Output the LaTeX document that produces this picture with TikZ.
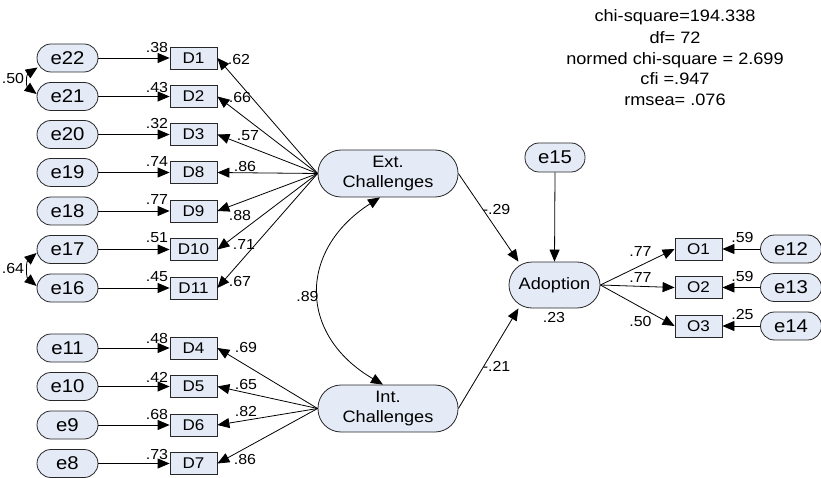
\documentclass[tikz,border=0pt]{standalone}
\usepackage{fontspec}
\setmainfont[FakeStretch=1.1]{Liberation Sans}
\usetikzlibrary{arrows.meta,calc}
\definecolor{nodefill}{RGB}{228,234,246}
\definecolor{edgegray}{RGB}{40,40,40}
\tikzset{
 errnode/.style={draw=edgegray, fill=nodefill, rectangle, rounded corners=14pt, minimum width=61pt, minimum height=28pt, inner sep=0pt, line width=0.8pt, font=\fontsize{18.5}{20}\selectfont},
 latnode/.style={draw=edgegray, fill=nodefill, rectangle, rounded corners=23pt, minimum width=140pt, minimum height=47pt, inner sep=0pt, line width=0.8pt, align=center, font=\fontsize{16.5}{20}\selectfont},
 obsbox/.style={draw=edgegray, fill=nodefill, rectangle, minimum width=47pt, minimum height=22pt, inner sep=0pt, line width=0.8pt, font=\fontsize{15.5}{18}\selectfont},
 lab/.style={inner sep=0pt, font=\fontsize{14.5}{16}\selectfont},
 fitline/.style={inner sep=0pt, anchor=base, font=\fontsize{16.5}{20}\selectfont},
 arr/.style={-{Triangle[length=12pt,width=10pt]}, line width=0.8pt},
 darr/.style={{Triangle[length=12pt,width=10pt]}-{Triangle[length=12pt,width=10pt]}, line width=0.8pt},
}
\newcommand\mylab[4]{\node[lab] (#1) at (#2,#3) {#4};}
\begin{document}
\begin{tikzpicture}[x=1pt,y=-1pt]
\useasboundingbox (0,0) rectangle (821,478);
% fit statistics
\node[fitline] (f1) at (675,21.7) {chi-square=194.338};
\node[fitline] (f2) at (675,43.3) {df= 72};
\node[fitline] (f3) at (675,64.3) {normed chi-square = 2.699};
\node[fitline] (f4) at (675,85) {cfi =.947};
\node[fitline] (f5) at (675,106) {rmsea= .076};
% latent
\node[latnode] (ext) at (388,173.5) {Ext.\\Challenges};
\node[latnode] (int) at (388,408.5) {Int.\\Challenges};
\node[latnode, minimum width=91pt, minimum height=46pt] (adop) at (554.5,285) {Adoption};
\node[errnode, minimum width=60pt, minimum height=29pt] (e15) at (555,157.5) {e15};
% indicators
\foreach \e/\d/\y in {e22/D1/58, e21/D2/96.5, e20/D3/134.5, e19/D8/172.5, e18/D9/211, e17/D10/249.5, e16/D11/288,
                      e11/D4/348, e10/D5/386.5, e9/D6/425, e8/D7/463.5}{
  \node[errnode] (\e) at (67.5,\y) {\e};
  \node[obsbox] (\d) at (193.5,\y) {\d};
  \draw[arr] (\e.east) -- (\d.west);
}
\foreach \d in {D1,D2,D3,D8,D9,D10,D11}{ \draw[arr] (ext.west) -- (\d.east); }
\foreach \d in {D4,D5,D6,D7}{ \draw[arr] (int.west) -- (\d.east); }
% outcome indicators
\foreach \o/\e/\y in {O1/e12/249, O2/e13/287.5, O3/e14/326}{
  \node[obsbox] (\o) at (698.5,\y) {\o};
  \node[errnode] (\e) at (791,\y) {\e};
  \draw[arr] (\e.west) -- (\o.east);
  \draw[arr] (adop.east) -- (\o.west);
}
% structural paths
\draw[arr] (ext.east) -- (adop.147);
\draw[arr] (int.east) -- (adop.213);
\draw[arr] (e15.south) -- (adop.north);
\draw[darr] ([xshift=-8pt]ext.south) .. controls (298,250) and (298,335) .. ([xshift=-5pt]int.north);
% error covariances
\draw[darr] ($(e22.west)+(1,9.5)$) .. controls (26,75) and (26,86) .. ($(e21.west)+(0,-2.5)$);
\draw[darr] ($(e17.west)+(0,3.5)$) .. controls (26,262) and (26,277) .. ($(e16.west)+(0,-2)$);
% labels
\mylab{l1}{157}{48}{.38}
\mylab{l2}{157}{87.5}{.43}
\mylab{l3}{157}{124}{.32}
\mylab{l4}{157}{162}{.74}
\mylab{l5}{157}{200}{.77}
\mylab{l6}{157}{238}{.51}
\mylab{l7}{157}{277}{.45}
\mylab{l8}{157}{338.5}{.48}
\mylab{l9}{157}{377}{.42}
\mylab{l10}{157}{415}{.68}
\mylab{l11}{157}{454.5}{.73}
\mylab{r1}{239}{60}{.62}
\mylab{r2}{240}{98}{.66}
\mylab{r3}{248}{136}{.57}
\mylab{r4}{245}{167}{.86}
\mylab{r5}{240}{216}{.88}
\mylab{r6}{244}{245}{.71}
\mylab{r7}{240}{282}{.67}
\mylab{r8}{246}{348}{.69}
\mylab{r9}{246}{385}{.65}
\mylab{r10}{246}{412}{.82}
\mylab{r11}{245}{459.5}{.86}
\mylab{c1}{307.5}{297}{.89}
\mylab{c2}{13}{79}{.50}
\mylab{c3}{13}{269}{.64}
\mylab{p1}{496.5}{210}{-.29}
\mylab{p2}{496.5}{366}{-.21}
\mylab{p3}{554}{318}{.23}
\mylab{o1}{640.5}{252}{.77}
\mylab{o2}{640.5}{278}{.77}
\mylab{o3}{640.5}{322}{.50}
\mylab{o4}{742.5}{238}{.59}
\mylab{o5}{742.5}{277}{.59}
\mylab{o6}{742.5}{315}{.25}
\end{tikzpicture}
\end{document}
